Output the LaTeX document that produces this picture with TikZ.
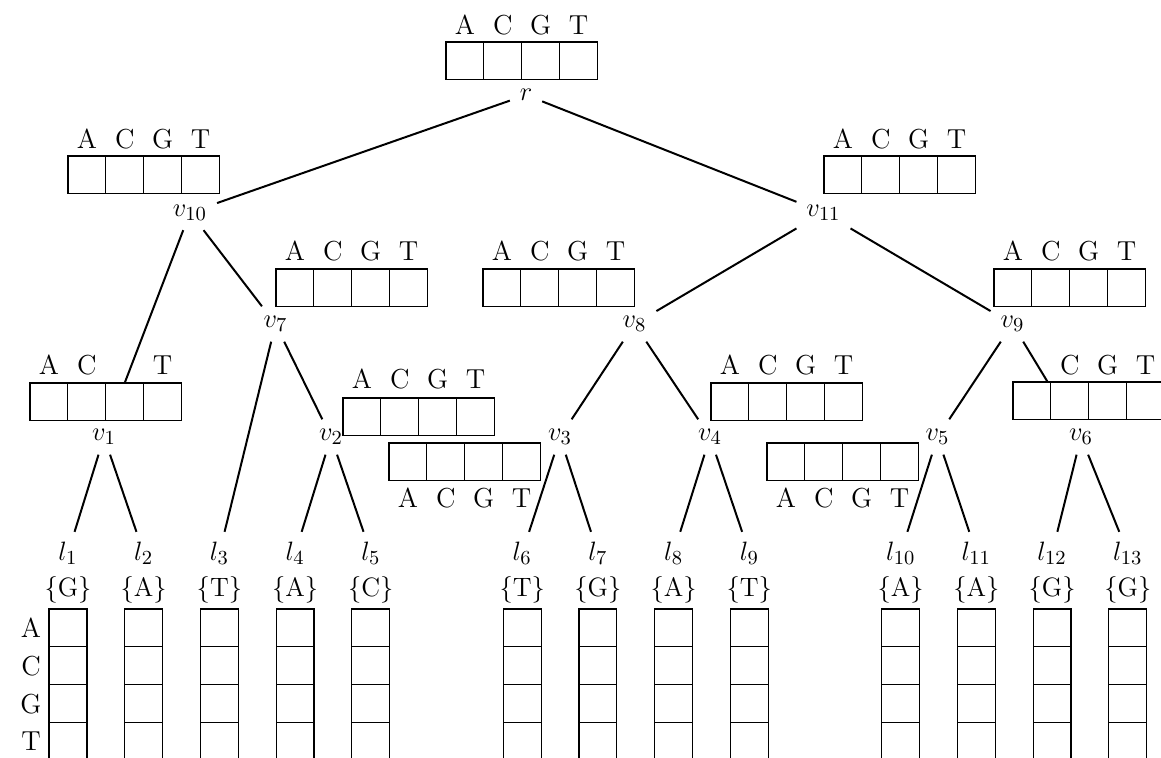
\documentclass[tikz,border=0pt]{standalone}
% One row of four cells with its letters; #1 name, #2 left x, #3 top y,
% #4 centre y of the letters, #5 the letters
\newcommand\acgtbox[5]{%
  \foreach \lt [count=\i from 0] in {#5} {%
    \node[cell] (#1-\i) at ({#2+37.85*\i},#3) {};
    \node[letter] (#1-t\i) at ({#2+37.85*\i+18.925},#4) {\lt};
  }}
\begin{document}
\begin{tikzpicture}[x=0.4516pt,y=-0.4516pt,
  font=\fontsize{12.4}{15}\selectfont,
  lab/.style={inner sep=4.3pt},
  edge/.style={line width=0.9pt},
  cell/.style={draw,fill=white,line width=0.55pt,minimum width=17.09pt,
    minimum height=17.09pt,inner sep=0pt,outer sep=0pt,anchor=north west},
  letter/.style={inner sep=0pt}]
\clip (0,0) rectangle (1161,758);

% inner vertices
\node[lab] (r)   at (526,95)      {$r$};
\node[lab] (v10) at (190,212.5)   {$v_{10}$};
\node[lab] (v11) at (823.5,212.5) {$v_{11}$};
\node[lab] (v7)  at (275.5,324)   {$v_{7}$};
\node[lab] (v8)  at (634.5,324)   {$v_{8}$};
\node[lab] (v9)  at (1012.5,324)  {$v_{9}$};
\node[lab] (v1)  at (104,437)     {$v_{1}$};
\node[lab] (v2)  at (331,437)     {$v_{2}$};
\node[lab] (v3)  at (560,437)     {$v_{3}$};
\node[lab] (v4)  at (710,437)     {$v_{4}$};
\node[lab] (v5)  at (937.5,437)   {$v_{5}$};
\node[lab] (v6)  at (1081,437)    {$v_{6}$};

% leaves with their observed base and a column of four cells
\foreach \k/\n/\s in {0/1/G,1/2/A,2/3/T,3/4/A,4/5/C,6/6/T,7/7/G,8/8/A,
                      9/9/T,11/10/A,12/11/A,13/12/G,14/13/G} {
  \pgfmathsetmacro\xx{68+75.7*\k}
  \node[lab] (l\n) at (\xx,553) {$l_{\n}$};
  \node (s\n) at (\xx,590) {$\{\mathrm{\s}\}$};
  \foreach \j in {0,...,3}
    \node[cell] (c\n-\j) at (\xx-18.925,609+37.85*\j) {};
}
\foreach \lt [count=\j from 0] in {A,C,G,T}
  \node[letter] (row\j) at (31,628+37.85*\j) {\lt};

% tree edges
\foreach \a/\b in {r/v10,r/v11,v10/v1,v10/v7,v11/v8,v11/v9,
                   v7/l3,v7/v2,v2/l4,v2/l5,v1/l1,v1/l2,
                   v8/v3,v8/v4,v3/l6,v3/l7,v4/l8,v4/l9,
                   v9/v5,v9/v6,v5/l10,v5/l11,v6/l12,v6/l13}
  \draw[edge] (\a) -- (\b);

% score rows of the inner vertices
\acgtbox{br}{446}{42}{25}{A,C,G,T}
\acgtbox{b10}{68}{156}{139}{A,C,G,T}
\acgtbox{b11}{824}{156}{139}{A,C,G,T}
\acgtbox{b7}{276}{269}{251}{A,C,G,T}
\acgtbox{b8}{483}{269}{251}{A,C,G,T}
\acgtbox{b9}{994}{269}{251}{A,C,G,T}
\acgtbox{b1}{30}{383}{365}{A,C,{},T}
\acgtbox{b2}{343}{398}{379}{A,C,G,T}
\acgtbox{b3}{389}{443}{498}{A,C,G,T}
\acgtbox{b4}{711}{383}{365}{A,C,G,T}
\acgtbox{b5}{767}{443}{498}{A,C,G,T}
\acgtbox{b6}{1013}{382}{365}{{},C,G,T}
\end{tikzpicture}
\end{document}
